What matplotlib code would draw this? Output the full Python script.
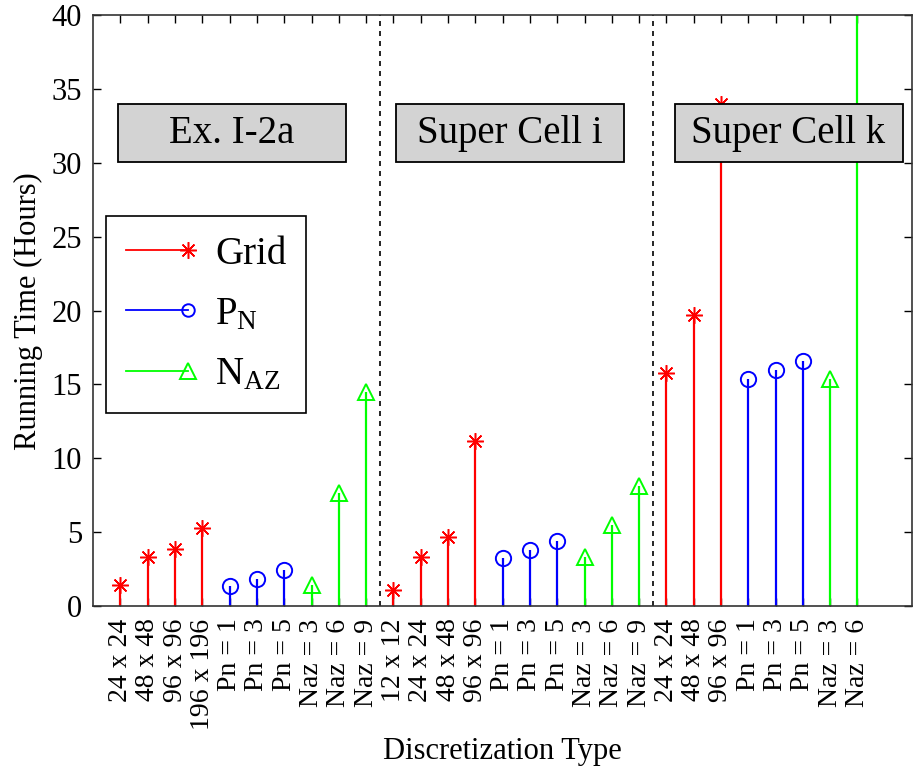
import numpy as np
import matplotlib.pyplot as plt
from matplotlib.lines import Line2D
from matplotlib.patches import Rectangle
from matplotlib.legend_handler import HandlerLine2D

plt.rcParams['font.family'] = ['Liberation Serif', 'DejaVu Serif']
plt.rcParams['mathtext.fontset'] = 'custom'
plt.rcParams['mathtext.rm'] = 'Liberation Serif'

# Tick labels, one per discretization run
labels = ['24 x 24', '48 x 48', '96 x 96', '196 x 196',
          'Pn = 1', 'Pn = 3', 'Pn = 5', 'Naz = 3', 'Naz = 6', 'Naz = 9',
          '12 x 12', '24 x 24', '48 x 48', '96 x 96',
          'Pn = 1', 'Pn = 3', 'Pn = 5', 'Naz = 3', 'Naz = 6', 'Naz = 9',
          '24 x 24', '48 x 48', '96 x 96',
          'Pn = 1', 'Pn = 3', 'Pn = 5', 'Naz = 3', 'Naz = 6']

# which labels belong to each series (index into labels)
grid_idx = [0, 1, 2, 3, 10, 11, 12, 13, 20, 21, 22]
grid_hours = [1.4, 3.3, 3.85, 5.3, 1.1, 3.3, 4.65, 11.15, 15.8, 19.7, 34.0]

pn_idx = [4, 5, 6, 14, 15, 16, 23, 24, 25]
pn_hours = [1.35, 1.85, 2.45, 3.25, 3.8, 4.4, 15.4, 16.0, 16.6]

naz_idx = [7, 8, 9, 17, 18, 19, 26, 27]
naz_hours = [1.4, 7.65, 14.5, 3.3, 5.5, 8.1, 15.4, 45.0]

cases = ['Ex. I-2a', 'Super Cell i', 'Super Cell k']
case_sizes = [10, 10, 8]

ASTERISK = (8, 2, 0)   # matlab-style '*' : 8 spokes

x = np.arange(1, len(labels) + 1)

fig = plt.figure(figsize=(9.13, 7.68), dpi=100)
ax = fig.add_axes([0.102, 0.211, 0.897, 0.769])


def draw_stems(idx, vals, color, marker, ms, mew):
    xs = x[np.array(idx)]
    ax.vlines(xs, 0, vals, colors=color, lw=1.6, zorder=2)
    ax.plot(xs, vals, ls='none', marker=marker, ms=ms, color=color,
            mfc='none', mew=mew, zorder=3)


draw_stems(grid_idx, grid_hours, 'red', ASTERISK, 12, 1.1)
draw_stems(pn_idx, pn_hours, 'blue', 'o', 11, 1.4)
draw_stems(naz_idx, naz_hours, '#00ff00', '^', 12, 1.4)

# separators between the test cases
edges = np.cumsum(case_sizes)[:-1] + 0.5
for e in edges:
    ax.axvline(e, color='black', ls=(0, (3, 3)), lw=1.2, zorder=1)

# case name boxes (fixed size, grey)
box_left = [0.9, 11.1, 21.3]
box_w = 8.35
for name, bx in zip(cases, box_left):
    ax.add_patch(Rectangle((bx, 30.05), box_w, 3.95, fc='#d3d3d3', ec='black',
                           lw=1.3, zorder=5))
    ax.text(bx + box_w / 2, 32.0, name, ha='center', va='center',
            fontsize=28, zorder=6)

ax.set_xlim(0, 30)
ax.set_ylim(0, 40)
ax.set_xticks(x)
ax.set_xticklabels(labels, rotation=90, fontsize=20)
ax.set_yticks(np.arange(0, 41, 5))
ax.tick_params(axis='y', labelsize=22, pad=8)
ax.tick_params(axis='x', pad=9)
ax.tick_params(direction='in', length=6, top=True, right=True, width=1)
for s in ax.spines.values():
    s.set_linewidth(1.2)
    s.set_color('#333333')

ax.set_xlabel('Discretization Type', fontsize=22)
ax.xaxis.set_label_coords(0.5, -0.222)
ax.set_ylabel('Running Time (Hours)', fontsize=22, labelpad=6)


class EndMarker(HandlerLine2D):
    """Line with a single marker at its right end."""
    def create_artists(self, legend, orig, xdescent, ydescent, width, height,
                       fontsize, trans):
        y = height / 2 - ydescent
        line = Line2D([-xdescent, width - xdescent], [y, y],
                      color=orig.get_color(), lw=1.3)
        mark = Line2D([width - xdescent], [y], ls='none',
                      marker=orig.get_marker(), ms=orig.get_markersize(),
                      color=orig.get_color(), mfc='none',
                      mew=orig.get_markeredgewidth())
        line.set_transform(trans)
        mark.set_transform(trans)
        return [line, mark]


handles = [
    Line2D([], [], color='red', marker=ASTERISK, ms=12, mew=1.1),
    Line2D([], [], color='blue', marker='o', ms=9, mew=1.4),
    Line2D([], [], color='#00ff00', marker='^', ms=11, mew=1.4),
]
leg = ax.legend(handles, ['Grid', r'$\mathregular{P_N}$', r'$\mathregular{N_{AZ}}$'],
                handler_map={Line2D: EndMarker()},
                loc='upper left', bbox_to_anchor=(0.016, 0.66), fontsize=28,
                handlelength=1.6, handletextpad=0.7, labelspacing=0.6,
                fancybox=False, edgecolor='black', framealpha=1, borderpad=0.5,
                borderaxespad=0)
leg.get_frame().set_linewidth(1.2)
leg.set_zorder(6)

fig.savefig('out.png', dpi=100)
